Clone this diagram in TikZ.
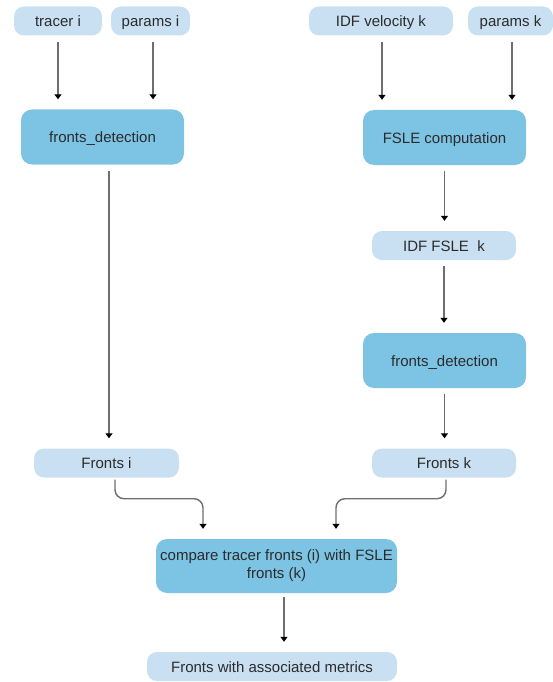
\documentclass[tikz,border=0pt]{standalone}
\usepackage{fontspec}
\setmainfont{Liberation Sans}
\usepackage{tikz}
\usetikzlibrary{arrows.meta,calc,positioning}
\definecolor{Pale}{HTML}{C9E0F2}
\definecolor{Sky}{HTML}{7DC4E4}
\definecolor{Ink}{HTML}{2B2B2B}
\definecolor{Wire}{HTML}{6E6E6E}

\begin{document}
\begin{tikzpicture}[x=1pt,y=1pt,
        databox/.style={fill=Pale,rounded corners=10pt,minimum height=29pt,inner sep=0pt,
          text height=14pt,text depth=3pt,text=Ink,font=\fontsize{15}{18}\selectfont},
        procbox/.style={fill=Sky,rounded corners=11pt,minimum width=163pt,minimum height=55pt,
          inner sep=0pt,text height=14pt,text depth=3pt,align=center,text=Ink,
          font=\fontsize{15}{18}\selectfont},
        flow/.style={draw=Wire,line width=1.4pt,shorten <=6pt,shorten >=10pt,
          -{Triangle[length=5pt,width=7pt,color=black]}}]
        \useasboundingbox (0,0) rectangle (553,-682);
        \node[databox,minimum width=88pt] (tracer) at (58,-21) {tracer i};
        \node[databox,minimum width=79pt] (parami) at (150.5,-21) {params i};
        \node[databox,minimum width=144pt] (idfvel) at (381,-21) {IDF velocity k};
        \node[databox,minimum width=85pt] (paramk) at (510.5,-21) {params k};
        \node[procbox] (detecti) at (102.5,-137) {fronts\_detection};
        \node[procbox] (fsle) at (444.5,-137.5) {FSLE computation};
        \node[databox,minimum width=144pt] (idffsle) at (444,-245.5) {IDF FSLE\ \ k};
        \node[procbox] (detectk) at (444.5,-360.5) {fronts\_detection};
        \node[databox,minimum width=145pt] (frontsi) at (106.5,-463) {Fronts i};
        \node[databox,minimum width=144pt] (frontsk) at (444,-463) {Fronts k};
        \node[procbox,minimum width=241pt,minimum height=54pt,text height={},text depth={}] (compare)
          at (276.5,-566) {compare tracer fronts (i) with FSLE\\fronts (k)};
        \node[databox,minimum width=250pt] (metrics) at (272,-666.5) {Fronts with associated metrics};
        \draw[flow] (tracer) -- (tracer |- detecti.north);
        \draw[flow] ([xshift=2.5pt]parami.south) -- ([xshift=2.5pt]parami.south |- detecti.north);
        \draw[flow] ([xshift=1pt]idfvel.south) -- ([xshift=1pt]idfvel.south |- fsle.north);
        \draw[flow] ([xshift=1.5pt]paramk.south) -- ([xshift=1.5pt]paramk.south |- fsle.north);
        \draw[flow] ([xshift=6.5pt]detecti.south) -- ([xshift=6.5pt]detecti.south |- frontsi.north);
        \draw[flow] (fsle) -- (fsle.south |- idffsle.north);
        \draw[flow] (idffsle) -- (idffsle.south |- detectk.north);
        \draw[flow] (detectk) -- (detectk.south |- frontsk.north);
        \draw[flow,shorten <=2pt,rounded corners=9pt] ([xshift=8.5pt]frontsi.south) -- ++(0,-21)
          -| ([xshift=-73.5pt]compare.north);
        \draw[flow,shorten <=2pt,rounded corners=9pt] ([xshift=2pt]frontsk.south) -- ++(0,-21)
          -| ([xshift=59.5pt]compare.north);
        \draw[flow,shorten <=4pt] ([xshift=7.5pt]compare.south) -- ([xshift=7.5pt]compare.south |- metrics.north);
      \end{tikzpicture}
\end{document}
